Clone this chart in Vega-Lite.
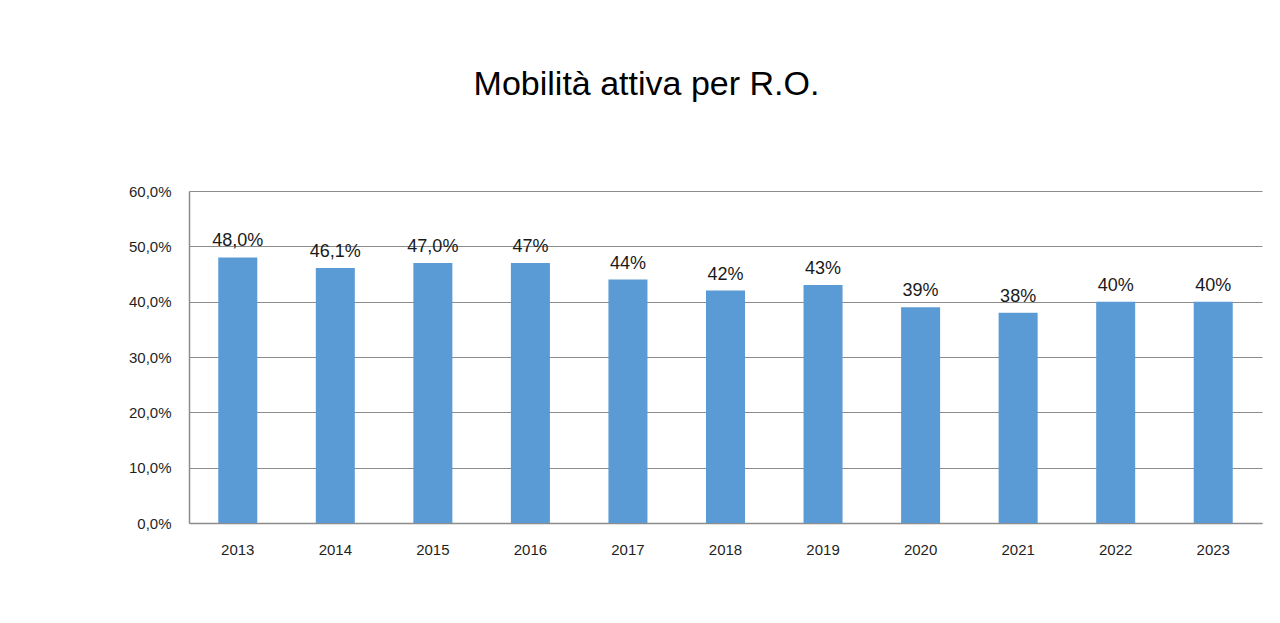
{
  "$schema": "https://vega.github.io/schema/vega-lite/v6.json",
  "autosize": {"type": "none"},
  "width": 1073,
  "height": 332,
  "padding": {"left": 189, "top": 191, "right": 18, "bottom": 100},
  "background": "white",
  "title": {
    "text": "Mobilità attiva per R.O.",
    "font": "Liberation Sans",
    "fontSize": 34,
    "fontWeight": "normal",
    "color": "#000000",
    "anchor": "middle",
    "baseline": "alphabetic",
    "offset": 55,
    "dx": -79
  },
  "data": {
    "values": [
      {"anno": "2013", "valore": 48.0, "etichetta": "48,0%"},
      {"anno": "2014", "valore": 46.1, "etichetta": "46,1%"},
      {"anno": "2015", "valore": 47.0, "etichetta": "47,0%"},
      {"anno": "2016", "valore": 47.0, "etichetta": "47%"},
      {"anno": "2017", "valore": 44.0, "etichetta": "44%"},
      {"anno": "2018", "valore": 42.0, "etichetta": "42%"},
      {"anno": "2019", "valore": 43.0, "etichetta": "43%"},
      {"anno": "2020", "valore": 39.0, "etichetta": "39%"},
      {"anno": "2021", "valore": 38.0, "etichetta": "38%"},
      {"anno": "2022", "valore": 40.0, "etichetta": "40%"},
      {"anno": "2023", "valore": 40.0, "etichetta": "40%"}
    ]
  },
  "encoding": {
    "x": {
      "field": "anno",
      "type": "ordinal",
      "sort": null,
      "scale": {"paddingInner": 0.6, "paddingOuter": 0.3},
      "axis": {
        "title": null,
        "labelAngle": 0,
        "labelFont": "Liberation Sans",
        "labelFontSize": 15,
        "labelColor": "#1f1f1f",
        "labelPadding": 19,
        "ticks": false,
        "domainColor": "#8c8c8c",
        "domainWidth": 1.5,
        "grid": false
      }
    },
    "y": {
      "field": "valore",
      "type": "quantitative",
      "scale": {"domain": [0, 60], "nice": false},
      "axis": {
        "title": null,
        "values": [0, 10, 20, 30, 40, 50, 60],
        "labelExpr": "replace(format(datum.value, '.1f'), '.', ',') + '%'",
        "labelFont": "Liberation Sans",
        "labelFontSize": 15,
        "labelColor": "#1f1f1f",
        "labelPadding": 18,
        "ticks": false,
        "domainColor": "#8c8c8c",
        "domainWidth": 1.5,
        "gridColor": "#8c8c8c",
        "gridWidth": 1.2
      }
    }
  },
  "layer": [
    {
      "mark": {"type": "bar", "color": "#5B9BD5"}
    },
    {
      "mark": {
        "type": "text",
        "font": "Liberation Sans",
        "fontSize": 18,
        "color": "#1a1a1a",
        "baseline": "alphabetic",
        "dy": -11
      },
      "encoding": {"text": {"field": "etichetta"}}
    }
  ],
  "config": {"view": {"stroke": null}}
}
